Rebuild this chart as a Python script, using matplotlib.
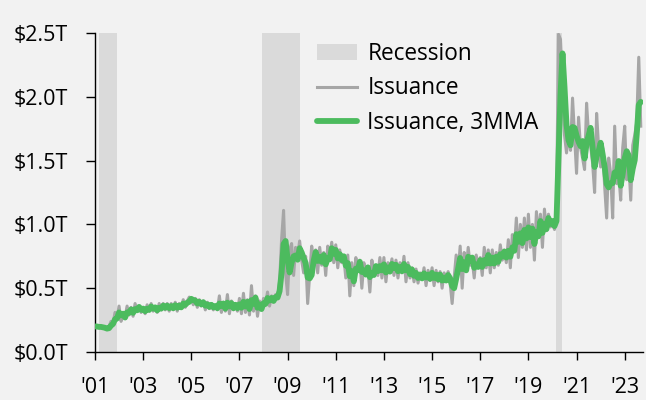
import numpy as np
import pandas as pd
import matplotlib
matplotlib.use("Agg")
import matplotlib.pyplot as plt
from matplotlib.patches import Patch
from matplotlib.lines import Line2D

plt.rcParams['font.family'] = ['Open Sans', 'DejaVu Sans']

# monthly issuance, $T, Jan 2001 .. Sep 2023
issuance_by_year = {
    2001: [0.20, 0.20, 0.19, 0.20, 0.19, 0.18, 0.18, 0.20, 0.24, 0.22, 0.31, 0.26],
    2002: [0.36, 0.24, 0.30, 0.27, 0.36, 0.29, 0.35, 0.28, 0.38, 0.32, 0.36, 0.31],
    2003: [0.35, 0.30, 0.37, 0.32, 0.38, 0.32, 0.35, 0.31, 0.38, 0.33, 0.38, 0.33],
    2004: [0.38, 0.32, 0.38, 0.33, 0.39, 0.32, 0.38, 0.35, 0.41, 0.35, 0.40, 0.43],
    2005: [0.42, 0.37, 0.42, 0.35, 0.41, 0.36, 0.40, 0.33, 0.39, 0.34, 0.38, 0.33],
    2006: [0.37, 0.33, 0.44, 0.31, 0.39, 0.32, 0.45, 0.30, 0.40, 0.33, 0.38, 0.32],
    2007: [0.42, 0.30, 0.46, 0.31, 0.41, 0.29, 0.52, 0.32, 0.44, 0.28, 0.40, 0.33],
    2008: [0.42, 0.38, 0.47, 0.36, 0.44, 0.40, 0.45, 0.43, 0.55, 0.88, 1.11, 0.62],
    2009: [0.45, 0.80, 0.85, 0.60, 0.82, 0.75, 0.87, 0.72, 0.62, 0.75, 0.38, 0.60],
    2010: [0.83, 0.72, 0.80, 0.62, 0.82, 0.68, 0.78, 0.60, 0.83, 0.75, 0.86, 0.70],
    2011: [0.84, 0.66, 0.80, 0.70, 0.75, 0.58, 0.76, 0.44, 0.70, 0.52, 0.74, 0.66],
    2012: [0.72, 0.50, 0.70, 0.62, 0.67, 0.47, 0.72, 0.62, 0.68, 0.60, 0.74, 0.58],
    2013: [0.74, 0.55, 0.70, 0.64, 0.73, 0.60, 0.72, 0.58, 0.70, 0.62, 0.75, 0.55],
    2014: [0.70, 0.58, 0.66, 0.55, 0.65, 0.54, 0.62, 0.57, 0.66, 0.52, 0.64, 0.56],
    2015: [0.66, 0.52, 0.64, 0.55, 0.63, 0.50, 0.62, 0.56, 0.63, 0.54, 0.38, 0.58],
    2016: [0.76, 0.62, 0.83, 0.50, 0.78, 0.64, 0.82, 0.68, 0.72, 0.58, 0.76, 0.66],
    2017: [0.74, 0.60, 0.82, 0.66, 0.80, 0.62, 0.80, 0.66, 0.78, 0.68, 0.84, 0.72],
    2018: [0.80, 0.70, 0.88, 0.66, 0.92, 0.80, 1.05, 0.74, 1.00, 0.82, 1.05, 0.80],
    2019: [1.08, 0.82, 1.00, 0.72, 1.10, 0.90, 1.08, 0.82, 1.12, 0.95, 1.08, 0.98],
    2020: [1.02, 0.96, 1.10, 2.49, 2.45, 2.08, 1.70, 1.56, 1.72, 1.58, 1.99, 1.70],
    2021: [1.40, 1.84, 1.60, 1.52, 1.43, 1.95, 1.70, 1.62, 1.48, 1.25, 1.87, 1.60],
    2022: [1.45, 1.60, 1.30, 1.05, 1.52, 1.40, 1.05, 1.77, 1.32, 1.40, 1.19, 1.60],
    2023: [1.77, 1.35, 1.50, 1.19, 1.62, 1.70, 1.80, 2.31, 1.77],
}

recessions = [(2001.17, 2001.92), (2007.95, 2009.5), (2020.13, 2020.38)]

y_ticks = [0, 0.5, 1.0, 1.5, 2.0, 2.5]
y_labels = ['$0.0T', '$0.5T', '$1.0T', '$1.5T', '$2.0T', '$2.5T']
x_ticks = list(range(2001, 2024, 2))
x_labels = ["'%02d" % (y % 100) for y in x_ticks]

dates = []
values = []
for year, vals in issuance_by_year.items():
    for m, v in enumerate(vals):
        dates.append(year + m / 12.0)
        values.append(v)

s = pd.Series(values, index=dates)
mma = s.rolling(3, min_periods=1).mean()

bg = '#f2f2f2'
gray = '#a6a6a6'
green = '#4cbb5e'

fig = plt.figure(figsize=(6.46, 4.0), dpi=100, facecolor=bg)
ax = fig.add_axes([0.147, 0.12, 0.848, 0.7975], facecolor=bg)

for start, end in recessions:
    ax.axvspan(start, end, color='#dadada', lw=0, zorder=1)

ax.plot(s.index, s.values, color=gray, lw=2.2, zorder=2)
ax.plot(mma.index, mma.values, color=green, lw=4.2, zorder=3,
        solid_capstyle='round', solid_joinstyle='round')

ax.set_xlim(2001, 2023.75)
ax.set_ylim(0, 2.5)
ax.set_yticks(y_ticks)
ax.set_yticklabels(y_labels)
ax.set_xticks(x_ticks)
ax.set_xticklabels(x_labels)

for side in ['top', 'right']:
    ax.spines[side].set_visible(False)
for side in ['left', 'bottom']:
    ax.spines[side].set_color('black')
    ax.spines[side].set_linewidth(1.0)

ax.tick_params(axis='y', length=6.5, width=1, pad=13, labelsize=15.5, colors='black')
ax.tick_params(axis='x', length=6, width=1, pad=12, labelsize=15.5, colors='black')

handles = [
    Patch(facecolor='#dadada', edgecolor='none', label='Recession'),
    Line2D([], [], color=gray, lw=2.2, label='Issuance'),
    Line2D([], [], color=green, lw=4.2, solid_capstyle='round', label='Issuance, 3MMA'),
]
fig.legend(handles=handles, loc='upper left', bbox_to_anchor=(0.476, 0.918),
           frameon=False, fontsize=16.3, handlelength=1.8, handletextpad=0.45,
           labelspacing=0.47, borderaxespad=0)

fig.savefig('out.png', dpi=100, facecolor=bg)
